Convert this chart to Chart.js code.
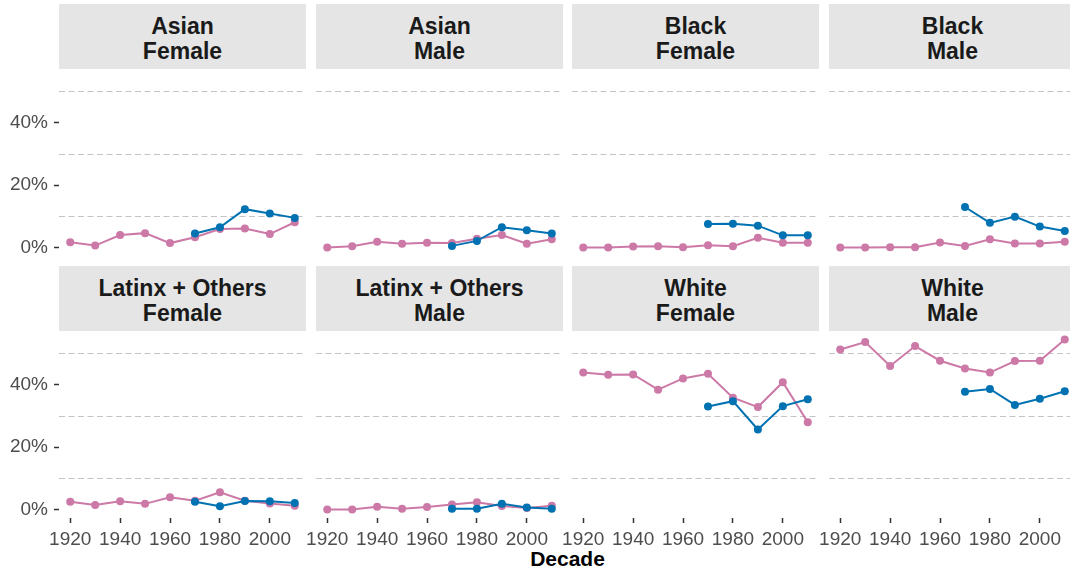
<!DOCTYPE html>
<html lang="en">
  <head>
    <title>decade-shares</title>
    <meta charset="utf-8" />
    <script src="https://cdn.jsdelivr.net/npm/chart.js@4.4.9/dist/chart.umd.min.js"></script>
    <style>
      html,
      body {
        margin: 0;
        padding: 0;
        width: 1070px;
        height: 576px;
        overflow: hidden;
        background: #fff;
        font-family: "Liberation Sans", Arial, sans-serif;
      }
      .strip {
        position: absolute;
        box-sizing: border-box;
        padding-top: 4px;
        background: #e5e5e5;
        color: #1a1a1a;
        font-weight: bold;
        font-size: 23px;
        line-height: 25px;
        text-align: center;
        display: flex;
        align-items: center;
        justify-content: center;
        white-space: pre;
      }
      .panel {
        position: absolute;
      }
      #xtitle {
        position: absolute;
        left: 59px;
        width: 1017px;
        top: 547px;
        text-align: center;
        font-weight: bold;
        font-size: 21px;
        line-height: 24px;
        color: #000;
      }
    </style>
  </head>

  <body>
    <div id="xtitle">Decade</div>

    <script>
      const decades = [1920, 1930, 1940, 1950, 1960, 1970, 1980, 1990, 2000, 2010];
      const xTicks = [1920, 1940, 1960, 1980, 2000];
      const yTicks = [0, 10, 20, 30, 40, 50];

      const facetLabels = [
        "Asian\nFemale", "Asian\nMale", "Black\nFemale", "Black\nMale",
        "Latinx + Others\nFemale", "Latinx + Others\nMale", "White\nFemale", "White\nMale",
      ];

      // pink series, one value per decade (%)
      const asianFemalePink = [1.7, 0.6, 4.0, 4.6, 1.4, 3.3, 5.9, 6.1, 4.3, 8.1];
      const asianMalePink = [0, 0.4, 1.8, 1.2, 1.5, 1.4, 2.8, 4.0, 1.2, 2.6];
      const blackFemalePink = [0, 0, 0.3, 0.4, 0.1, 0.7, 0.4, 3.1, 1.5, 1.5];
      const blackMalePink = [0, 0, 0.1, 0.1, 1.6, 0.5, 2.6, 1.3, 1.3, 1.8];
      const latinxFemalePink = [2.5, 1.4, 2.6, 1.8, 3.9, 2.8, 5.5, 2.8, 1.9, 1.2];
      const latinxMalePink = [0, 0, 0.9, 0.2, 0.8, 1.6, 2.3, 1.1, 0.5, 1.2];
      const whiteFemalePink = [44.0, 43.3, 43.4, 38.5, 42.1, 43.6, 35.9, 32.9, 40.9, 28.0];
      const whiteMalePink = [51.4, 53.8, 46.1, 52.5, 47.8, 45.3, 44.0, 47.7, 47.8, 54.6];

      // blue series, starts in 1970
      const asianFemaleBlue = [null, null, null, null, null, 4.5, 6.5, 12.3, 10.9, 9.5];
      const asianMaleBlue = [null, null, null, null, null, 0.5, 2.1, 6.5, 5.5, 4.5];
      const blackFemaleBlue = [null, null, null, null, null, 7.5, 7.6, 7.0, 3.9, 3.9];
      const blackMaleBlue = [null, null, null, null, null, 13.0, 7.9, 9.9, 6.7, 5.3];
      const latinxFemaleBlue = [null, null, null, null, null, 2.5, 1.0, 2.7, 2.6, 2.1];
      const latinxMaleBlue = [null, null, null, null, null, 0.2, 0.2, 1.8, 0.6, 0.2];
      const whiteFemaleBlue = [null, null, null, null, null, 33.1, 34.8, 25.7, 33.2, 35.4];
      const whiteMaleBlue = [null, null, null, null, null, 37.8, 38.7, 33.6, 35.6, 38.0];

      const pinkByFacet = [
        asianFemalePink, asianMalePink, blackFemalePink, blackMalePink,
        latinxFemalePink, latinxMalePink, whiteFemalePink, whiteMalePink,
      ];
      const blueByFacet = [
        asianFemaleBlue, asianMaleBlue, blackFemaleBlue, blackMaleBlue,
        latinxFemaleBlue, latinxMaleBlue, whiteFemaleBlue, whiteMaleBlue,
      ];

      const PINK = "#CC79A7";
      const BLUE = "#0072B2";
      const FONT = "'Liberation Sans', Arial, sans-serif";

      // facet grid geometry
      const colLeft = [59, 316, 572, 829];
      const panelW = 247;
      const stripTop = [4, 266];
      const stripH = 65;
      const panelH = 187;
      const xAxisH = 40;

      for (let i = 0; i < 8; i++) {
        const row = Math.floor(i / 4);
        const col = i % 4;
        addStrip(facetLabels[i], colLeft[col], stripTop[row]);
        addPanel(i, row, col);
      }

      function addStrip(text, left, top) {
        const div = document.createElement("div");
        div.className = "strip";
        div.textContent = text;
        Object.assign(div.style, {
          left: left + "px",
          top: top + "px",
          width: panelW + "px",
          height: stripH + "px",
        });
        document.body.appendChild(div);
      }

      function toPoints(values) {
        return decades.map((d, k) => ({ x: d, y: values[k] }));
      }

      function addPanel(i, row, col) {
        const leftPad = col === 0 ? colLeft[0] : 12;
        const showX = row === 1;
        const w = panelW + leftPad;
        const h = panelH + (showX ? xAxisH : 0);

        const wrap = document.createElement("div");
        wrap.className = "panel";
        Object.assign(wrap.style, {
          left: colLeft[col] - leftPad + "px",
          top: stripTop[row] + stripH + "px",
          width: w + "px",
          height: h + "px",
        });
        const canvas = document.createElement("canvas");
        canvas.width = w;
        canvas.height = h;
        wrap.appendChild(canvas);
        document.body.appendChild(wrap);

        const lineStyle = (color) => ({
          borderColor: color,
          backgroundColor: color,
          borderWidth: 2,
          pointRadius: 4,
          pointHoverRadius: 4,
          pointBorderWidth: 0,
          spanGaps: false,
        });

        new Chart(canvas, {
          type: "line",
          data: {
            datasets: [
              { label: "blue", data: toPoints(blueByFacet[i]), ...lineStyle(BLUE) },
              { label: "pink", data: toPoints(pinkByFacet[i]), ...lineStyle(PINK) },
            ],
          },
          options: {
            responsive: false,
            animation: false,
            events: [],
            layout: { padding: 0, autoPadding: false },
            plugins: { legend: { display: false }, tooltip: { enabled: false } },
            scales: {
              x: {
                type: "linear",
                display: showX,
                min: 1915.5,
                max: 2014.5,
                afterBuildTicks: (s) => {
                  s.ticks = xTicks.map((v) => ({ value: v }));
                },
                afterFit: (s) => {
                  s.height = showX ? xAxisH : 0;
                  s.paddingLeft = 0;
                  s.paddingRight = 0;
                },
                border: { display: false },
                grid: {
                  drawOnChartArea: false,
                  drawTicks: true,
                  tickLength: 5,
                  tickWidth: 1.5,
                  tickColor: "#333333",
                },
                ticks: {
                  autoSkip: false,
                  maxRotation: 0,
                  padding: 5,
                  color: "#4D4D4D",
                  font: { family: FONT, size: 19 },
                  callback: (v) => String(v),
                },
              },
              y: {
                type: "linear",
                min: -2.75,
                max: 57.35,
                afterBuildTicks: (s) => {
                  s.ticks = yTicks.map((v) => ({ value: v }));
                },
                afterFit: (s) => {
                  s.width = leftPad;
                  s.paddingTop = 0;
                  s.paddingBottom = 0;
                },
                border: { display: false, dash: [6, 3.5] },
                grid: {
                  lineWidth: 1,
                  color: (c) => (c.tick && c.tick.value % 20 === 10 ? "#C4C4C4" : "rgba(0,0,0,0)"),
                  drawTicks: col === 0,
                  tickLength: 5,
                  tickWidth: 1.5,
                  tickBorderDash: [],
                  tickColor: (c) => (c.tick && c.tick.value % 20 === 0 ? "#333333" : "rgba(0,0,0,0)"),
                },
                ticks: {
                  display: col === 0,
                  padding: 6,
                  color: "#4D4D4D",
                  font: { family: FONT, size: 19 },
                  callback: (v) => (v % 20 === 0 ? v + "%" : ""),
                },
              },
            },
          },
        });
      }
    </script>
  </body>
</html>
